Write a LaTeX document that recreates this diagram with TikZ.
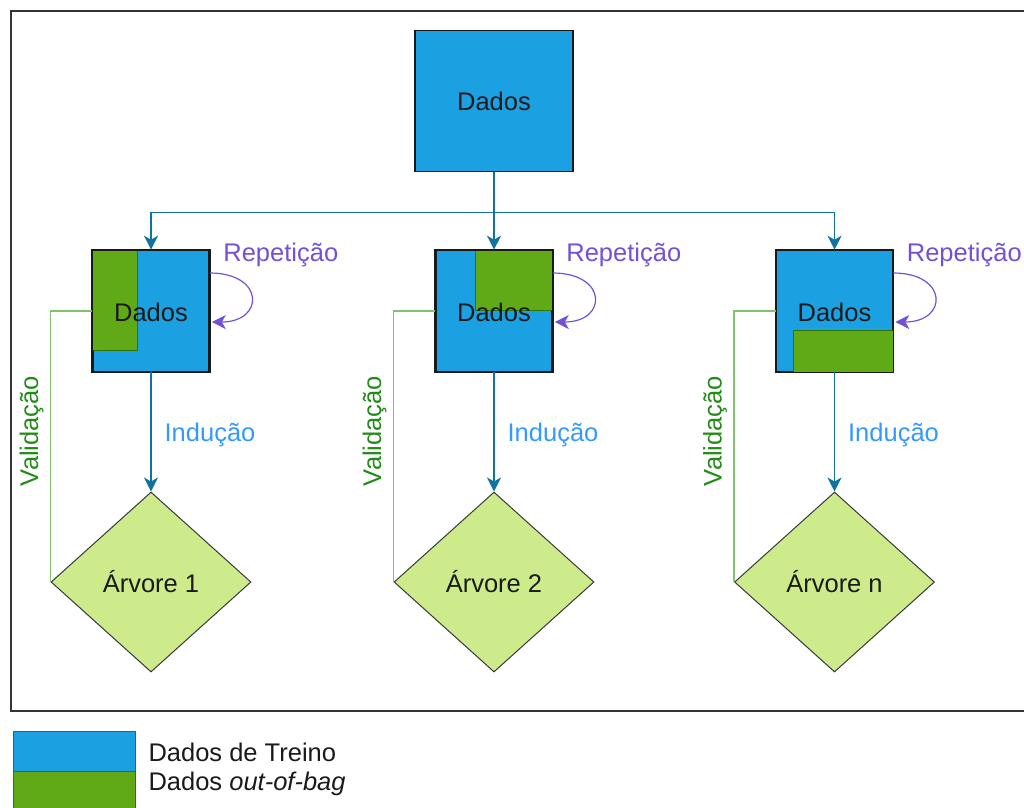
\documentclass[tikz,border=0pt]{standalone}
\usepackage{fontspec}
\setmainfont{Liberation Sans}
\usetikzlibrary{shapes.geometric,arrows.meta,calc}

\definecolor{trainblue}{HTML}{1BA1E2}
\definecolor{trainborder}{HTML}{006EAF}
\definecolor{oobgreen}{HTML}{60A917}
\definecolor{oobborder}{HTML}{2D7600}
\definecolor{treefill}{HTML}{CDEB8B}
\definecolor{treeborder}{HTML}{36393D}
\definecolor{edgeblue}{HTML}{10739E}
\definecolor{reppurple}{HTML}{7350D6}
\definecolor{indblue}{HTML}{3399FF}
\definecolor{valtext}{HTML}{238B17}
\definecolor{valline}{HTML}{82C46C}
\definecolor{framegray}{HTML}{333333}
\definecolor{inktext}{HTML}{1A1A1A}

\tikzset{
  txt/.style={font=\fontsize{25.5}{30}\selectfont, text=inktext},
  databox/.style={txt, draw=black!90, line width=1.6pt, fill=trainblue,
    minimum width=116pt, minimum height=121pt, inner sep=0pt},
  topbox/.style={databox, minimum width=158pt, minimum height=141pt},
  oob/.style={fill=oobgreen, draw=oobborder, line width=1pt},
  tree/.style={txt, diamond, draw=treeborder, line width=1pt, fill=treefill,
    minimum width=200pt, minimum height=180pt, inner sep=0pt},
  headtip/.style={-{Stealth[length=14pt,width=14pt,inset=4pt]}},
  feed/.style={headtip, draw=edgeblue, line width=1.2pt},
  loopedge/.style={headtip, draw=reppurple, line width=1.2pt},
  replabel/.style={txt, text=reppurple},
  indlabel/.style={txt, text=indblue},
  vallabel/.style={txt, text=valtext, rotate=90},
  valedge/.style={draw=valline, line width=1.2pt},
}

\begin{document}
\begin{tikzpicture}[x=1pt,y=-1pt]
\useasboundingbox (0,0) rectangle (1024,807);

% outer frame
\draw[framegray, line width=1.6pt] (11,11) rectangle (1060,711);

% source data
\node[topbox] (top) at (494,101) {Dados};

% bootstrap samples
\node[databox] (b1) at (151,311) {};
\node[databox] (b2) at (494,311) {};
\node[databox] (b3) at (834.5,311) {};

% out-of-bag portions
\draw[oob] (b1.north west) rectangle ($(b1.north west)+(45.5,101)$);
\draw[oob] ($(b2.north east)+(-77.5,0)$) rectangle ($(b2.north east)+(0,61)$);
\draw[oob] ($(b3.south east)+(-100,-41.5)$) rectangle (b3.south east);

% box outlines and labels
\foreach \b in {b1,b2,b3}{
  \draw[black!90, line width=1.6pt] (\b.north west) rectangle (\b.south east);
  \node[txt] at ($(\b)+(0,1.5)$) {Dados};
}

% trees
\node[tree] (t1) at (151,582) {Árvore 1};
\node[tree] (t2) at (494,582) {Árvore 2};
\node[tree] (t3) at (834.5,582) {Árvore n};

% sampling edges
\draw[feed] (top.south) -- ++(0,40) -| (b1.north);
\draw[feed] (top.south) -- (b2.north);
\draw[feed] (top.south) -- ++(0,40) -| (b3.north);

% induction edges
\foreach \i in {1,2,3}{
  \draw[feed] (b\i.south) -- (t\i.north);
  \node[indlabel] at ($(b\i.south)+(59,63)$) {Indução};
}

% repetition loops
\foreach \i in {1,2,3}{
  \draw[loopedge] ($(b\i.east)+(0,-38)$)
    .. controls ($(b\i.east)+(55,-38)$) and ($(b\i.east)+(55,11)$)
    .. ($(b\i.east)+(2,11)$);
  \node[replabel] at ($(b\i.east)+(71,-56)$) {Repetição};
}

% validation edges
\foreach \i in {1,2,3}{
  \draw[valedge] (b\i.west) -| (t\i.west);
  \node[vallabel] at ($(t\i.west)+(-19,-151)$) {Validação};
}

% legend
\draw[fill=trainblue, draw=trainborder, line width=1pt] (13.5,731) rectangle (135,771);
\draw[fill=oobgreen, draw=oobborder, line width=1pt] (13.5,771) rectangle (135,812);
\node[txt, anchor=west] (lg1) at (145,752) {Dados de Treino};
\node[txt, anchor=west] (lg2) at (145,784) {Dados \textit{out-of-bag}};
\end{tikzpicture}
\end{document}
